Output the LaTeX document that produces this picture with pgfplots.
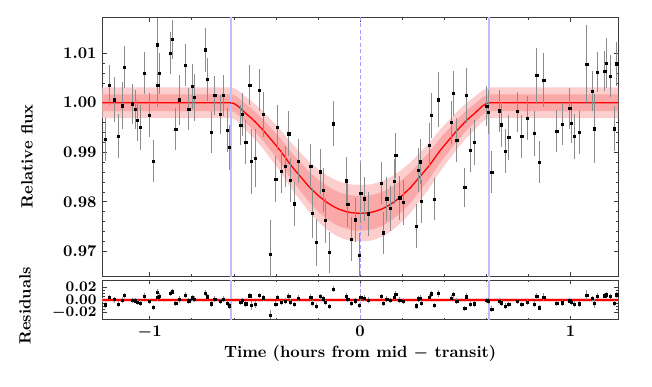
\documentclass[border=0pt]{standalone}
\usepackage{pgfplots}
\pgfplotsset{compat=1.18}
\usepackage{pgfplotstable}
\usepgfplotslibrary{fillbetween}
\definecolor{bandout}{RGB}{253,206,206}
\definecolor{bandin}{RGB}{250,168,168}
\definecolor{vline}{RGB}{190,190,255}
\definecolor{vdash}{RGB}{160,160,255}
\definecolor{ebar}{RGB}{140,140,140}
\definecolor{frame}{RGB}{60,60,60}

\pgfplotstableread{
t f e r
-1.210 0.99260 0.0043 -0.00740
-1.191 1.00358 0.0040 0.00358
-1.167 1.00060 0.0045 0.00060
-1.148 0.99327 0.0045 -0.00673
-1.129 0.99940 0.0048 -0.00060
-1.121 1.00721 0.0042 0.00721
-1.083 0.99980 0.0040 -0.00020
-1.067 0.99866 0.0040 -0.00134
-1.059 0.99644 0.0042 -0.00356
-1.044 0.99502 0.0045 -0.00498
-1.025 1.00600 0.0042 0.00600
-1.001 0.99752 0.0045 -0.00248
-0.982 0.98822 0.0042 -0.01178
-0.963 1.01166 0.0055 0.01166
-0.961 1.00358 0.0045 0.00358
-0.953 1.00593 0.0042 0.00593
-0.901 1.00997 0.0042 0.00997
-0.893 1.01273 0.0040 0.01273
-0.876 0.99469 0.0043 -0.00531
-0.858 1.00060 0.0050 0.00060
-0.831 1.00755 0.0042 0.00755
-0.814 0.99873 0.0043 -0.00127
-0.797 1.00324 0.0045 0.00324
-0.787 1.00108 0.0048 0.00108
-0.735 1.01065 0.0045 0.01065
-0.725 1.00472 0.0043 0.00472
-0.708 0.99408 0.0043 -0.00592
-0.690 1.00149 0.0040 0.00149
-0.664 0.99765 0.0040 -0.00235
-0.649 1.00149 0.0042 0.00149
-0.630 0.99448 0.0045 -0.00552
-0.622 0.99098 0.0045 -0.00902
-0.567 0.99549 0.0040 -0.00329
-0.561 0.99765 0.0043 -0.00089
-0.543 0.99206 0.0045 -0.00576
-0.524 1.00351 0.0040 0.00637
-0.516 0.98816 0.0065 -0.00868
-0.497 0.98883 0.0058 -0.00724
-0.480 1.00257 0.0042 0.00727
-0.461 0.99765 0.0045 0.00320
-0.426 0.96943 0.0070 -0.02327
-0.401 0.98459 0.0047 -0.00686
-0.393 0.99502 0.0045 0.00398
-0.374 0.98613 0.0043 -0.00388
-0.356 0.98714 0.0042 -0.00182
-0.339 0.99374 0.0045 0.00580
-0.331 0.98438 0.0045 -0.00312
-0.314 0.97960 0.0044 -0.00700
-0.295 0.98822 0.0045 0.00257
-0.234 0.98721 0.0045 0.00455
-0.227 0.97772 0.0050 -0.00466
-0.207 0.97179 0.0047 -0.00979
-0.188 0.98607 0.0045 0.00519
-0.174 0.98236 0.0045 0.00196
-0.165 0.97624 0.0045 -0.00387
-0.147 0.96977 0.0042 -0.00982
-0.127 0.99576 0.0045 0.01668
-0.067 0.98425 0.0047 0.00621
-0.059 0.97947 0.0045 0.00153
-0.041 0.97246 0.0045 -0.00535
-0.022 0.97637 0.0045 -0.00136
-0.005 0.96923 0.0045 -0.00847
0.003 0.98176 0.0060 0.00406
0.021 0.98061 0.0045 0.00289
0.040 0.97758 0.0045 -0.00022
0.100 0.98378 0.0043 0.00528
0.111 0.97374 0.0043 -0.00498
0.127 0.98061 0.0045 0.00153
0.144 0.97866 0.0045 -0.00085
0.162 0.98411 0.0045 0.00409
0.170 0.98937 0.0045 0.00909
0.189 0.98081 0.0045 -0.00011
0.206 0.97987 0.0045 -0.00167
0.266 0.97509 0.0045 -0.00911
0.277 0.98640 0.0045 0.00165
0.287 0.98809 0.0045 0.00284
0.291 0.98007 0.0043 -0.00538
0.329 0.99145 0.0045 0.00405
0.337 0.99745 0.0045 0.00963
0.353 0.98055 0.0043 -0.00823
0.372 1.00060 0.0055 0.01070
0.434 0.99597 0.0043 0.00287
0.443 1.00189 0.0045 0.00834
0.459 0.99246 0.0045 -0.00189
0.497 0.98290 0.0040 -0.01317
0.504 1.00149 0.0055 0.00513
0.523 0.99044 0.0045 -0.00667
0.542 0.99199 0.0045 -0.00579
0.602 0.99933 0.0040 -0.00053
0.610 0.99812 0.0045 -0.00188
0.626 0.98600 0.0042 -0.01400
0.662 0.99839 0.0042 -0.00161
0.671 0.99556 0.0045 -0.00444
0.689 0.99024 0.0045 -0.00976
0.706 0.99300 0.0045 -0.00700
0.747 0.99819 0.0040 -0.00181
0.768 0.99321 0.0043 -0.00679
0.795 0.99691 0.0045 -0.00309
0.828 0.99381 0.0045 -0.00619
0.839 1.00553 0.0055 0.00553
0.852 0.98802 0.0042 -0.01198
0.873 1.00459 0.0055 0.00459
0.934 0.99428 0.0043 -0.00572
0.960 0.99570 0.0043 -0.00430
0.996 0.99886 0.0042 -0.00114
1.004 0.99590 0.0040 -0.00410
1.018 0.99321 0.0045 -0.00679
1.040 0.99401 0.0043 -0.00599
1.077 1.00768 0.0080 0.00768
1.104 1.00236 0.0040 0.00236
1.113 0.99475 0.0070 -0.00525
1.128 1.00620 0.0040 0.00620
1.162 1.00634 0.0040 0.00634
1.169 1.00802 0.0050 0.00802
1.188 1.00539 0.0043 0.00539
1.208 0.99475 0.0045 -0.00525
1.219 1.00782 0.0045 0.00782
}\transit

\pgfplotstableread{
t f lo2 lo1 hi1 hi2
-1.30 1.00000 0.99690 0.99830 1.00170 1.00310
-0.62 1.00000 0.99690 0.99830 1.00170 1.00310
-0.60 0.99985 0.99673 0.99814 1.00156 1.00297
-0.58 0.99930 0.99612 0.99754 1.00106 1.00248
-0.56 0.99850 0.99523 0.99668 1.00032 1.00177
-0.54 0.99770 0.99433 0.99581 0.99959 1.00107
-0.52 0.99700 0.99355 0.99506 0.99894 1.00045
-0.50 0.99620 0.99266 0.99419 0.99821 0.99974
-0.48 0.99530 0.99165 0.99322 0.99738 0.99895
-0.46 0.99440 0.99065 0.99225 0.99655 0.99815
-0.44 0.99340 0.98953 0.99117 0.99563 0.99727
-0.42 0.99240 0.98841 0.99009 0.99471 0.99639
-0.40 0.99140 0.98730 0.98901 0.99379 0.99550
-0.38 0.99036 0.98614 0.98788 0.99284 0.99458
-0.36 0.98920 0.98484 0.98663 0.99177 0.99356
-0.34 0.98800 0.98350 0.98533 0.99067 0.99250
-0.32 0.98690 0.98227 0.98414 0.98966 0.99153
-0.30 0.98590 0.98116 0.98306 0.98874 0.99064
-0.28 0.98490 0.98004 0.98198 0.98782 0.98976
-0.26 0.98390 0.97892 0.98090 0.98690 0.98888
-0.24 0.98290 0.97781 0.97982 0.98598 0.98799
-0.22 0.98210 0.97691 0.97896 0.98524 0.98729
-0.20 0.98130 0.97602 0.97809 0.98451 0.98658
-0.18 0.98060 0.97524 0.97733 0.98387 0.98596
-0.16 0.97995 0.97451 0.97663 0.98327 0.98539
-0.14 0.97940 0.97390 0.97604 0.98276 0.98490
-0.12 0.97890 0.97334 0.97550 0.98230 0.98446
-0.10 0.97850 0.97289 0.97506 0.98194 0.98411
-0.08 0.97820 0.97256 0.97474 0.98166 0.98384
-0.06 0.97795 0.97228 0.97447 0.98143 0.98362
-0.04 0.97780 0.97211 0.97431 0.98129 0.98349
-0.02 0.97772 0.97202 0.97422 0.98122 0.98342
0.00 0.97770 0.97200 0.97420 0.98120 0.98340
0.02 0.97772 0.97202 0.97422 0.98122 0.98342
0.04 0.97780 0.97211 0.97431 0.98129 0.98349
0.06 0.97795 0.97228 0.97447 0.98143 0.98362
0.08 0.97820 0.97256 0.97474 0.98166 0.98384
0.10 0.97850 0.97289 0.97506 0.98194 0.98411
0.12 0.97890 0.97334 0.97550 0.98230 0.98446
0.14 0.97940 0.97390 0.97604 0.98276 0.98490
0.16 0.97995 0.97451 0.97663 0.98327 0.98539
0.18 0.98060 0.97524 0.97733 0.98387 0.98596
0.20 0.98130 0.97602 0.97809 0.98451 0.98658
0.22 0.98210 0.97691 0.97896 0.98524 0.98729
0.24 0.98290 0.97781 0.97982 0.98598 0.98799
0.26 0.98390 0.97892 0.98090 0.98690 0.98888
0.28 0.98490 0.98004 0.98198 0.98782 0.98976
0.30 0.98590 0.98116 0.98306 0.98874 0.99064
0.32 0.98690 0.98227 0.98414 0.98966 0.99153
0.34 0.98800 0.98350 0.98533 0.99067 0.99250
0.36 0.98920 0.98484 0.98663 0.99177 0.99356
0.38 0.99036 0.98614 0.98788 0.99284 0.99458
0.40 0.99140 0.98730 0.98901 0.99379 0.99550
0.42 0.99240 0.98841 0.99009 0.99471 0.99639
0.44 0.99340 0.98953 0.99117 0.99563 0.99727
0.46 0.99440 0.99065 0.99225 0.99655 0.99815
0.48 0.99530 0.99165 0.99322 0.99738 0.99895
0.50 0.99620 0.99266 0.99419 0.99821 0.99974
0.52 0.99700 0.99355 0.99506 0.99894 1.00045
0.54 0.99770 0.99433 0.99581 0.99959 1.00107
0.56 0.99850 0.99523 0.99668 1.00032 1.00177
0.58 0.99930 0.99612 0.99754 1.00106 1.00248
0.60 0.99985 0.99673 0.99814 1.00156 1.00297
0.62 1.00000 0.99690 0.99830 1.00170 1.00310
1.30 1.00000 0.99690 0.99830 1.00170 1.00310
}\model

\pgfplotsset{
  panel/.style={
    scale only axis,
    anchor=south west,
    width=316.4pt,
    xmin=-1.225, xmax=1.225,
    xtick={-1,0,1},
    minor x tick num=4,
    tick align=inside,
    major tick length=2.6pt,
    minor tick length=1.5pt,
    every tick/.style={frame, line width=0.5pt},
    minor tick style={frame, line width=0.4pt},
    axis line style={frame, line width=0.6pt},
    tick label style={font=\boldmath},
    label style={font=\bfseries\boldmath},
    scaled y ticks=false,
    y tick label style={/pgf/number format/fixed, /pgf/number format/fixed zerofill, /pgf/number format/precision=2},
    clip=true,
  },
  datapts/.style={
    only marks, mark=square*, mark size=0.7pt, black,
    error bars/.cd, y dir=both, y explicit,
    error bar style={ebar, line width=0.6pt}, error mark=none
  }
}

\begin{document}
\begin{tikzpicture}
\path (0,0) rectangle (400pt,237.4pt);

\begin{axis}[panel,
  at={(62.76pt,67.67pt)},
  height=158.7pt,
  ymin=0.9649, ymax=1.0171,
  ytick={0.97,0.98,0.99,1.00,1.01},
  minor y tick num=4,
  xticklabels={},
  ylabel={Relative flux},
  ylabel style={at={(axis description cs:-0.146,0.465)}, anchor=center, rotate=0},
]
\addplot[draw=none, name path=h2] table[x=t, y=hi2]{\model};
\addplot[draw=none, name path=l2] table[x=t, y=lo2]{\model};
\addplot[fill=bandout, draw=none] fill between[of=h2 and l2];
\addplot[draw=none, name path=h1] table[x=t, y=hi1]{\model};
\addplot[draw=none, name path=l1] table[x=t, y=lo1]{\model};
\addplot[fill=bandin, draw=none] fill between[of=h1 and l1];
\addplot[vline, line width=1pt] coordinates {(-0.613,0.96) (-0.613,1.02)};
\addplot[vline, line width=1pt] coordinates {(0.613,0.96) (0.613,1.02)};
\addplot[vdash, line width=0.5pt, dash pattern=on 2.5pt off 1.5pt] coordinates {(0,0.96) (0,1.02)};
\addplot[red, line width=0.8pt] table[x=t, y=f]{\model};
\addplot[datapts] table[x=t, y=f, y error=e]{\transit};
\end{axis}

\begin{axis}[panel,
  at={(62.76pt,41.1pt)},
  height=24.5pt,
  ymin=-0.031, ymax=0.031,
  ytick={-0.02,0,0.02},
  minor y tick num=3,
  y tick label style={inner ysep=0pt, font=\boldmath\fontsize{9}{9}\selectfont},
  ylabel={Residuals},
  ylabel style={at={(axis description cs:-0.150,0.35)}, anchor=center, rotate=0},
  xlabel={Time (hours from mid $-$ transit)},
  xlabel style={at={(axis description cs:0.5,-0.83)}, anchor=center},
]
\addplot[fill=bandout, draw=none] coordinates {(-1.3,-0.0031) (1.3,-0.0031) (1.3,0.0031) (-1.3,0.0031)} -- cycle;
\addplot[fill=bandin, draw=none] coordinates {(-1.3,-0.0017) (1.3,-0.0017) (1.3,0.0017) (-1.3,0.0017)} -- cycle;
\addplot[vline, line width=1pt] coordinates {(-0.613,-0.04) (-0.613,0.04)};
\addplot[vline, line width=1pt] coordinates {(0.613,-0.04) (0.613,0.04)};
\addplot[vdash, line width=0.5pt, dash pattern=on 2.5pt off 1.5pt] coordinates {(0,-0.04) (0,0.04)};
\addplot[red, line width=0.8pt] coordinates {(-1.3,0) (1.3,0)};
\addplot[datapts] table[x=t, y=r, y error=e]{\transit};
\end{axis}
\end{tikzpicture}
\end{document}
